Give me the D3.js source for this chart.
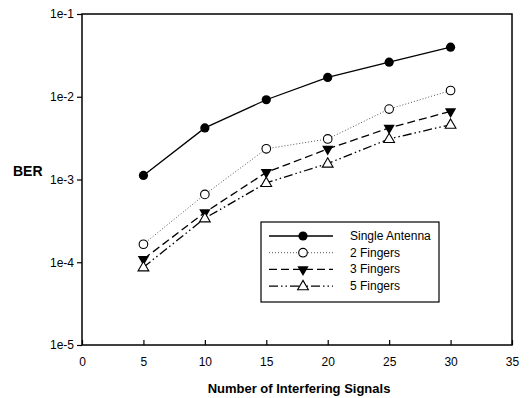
<!DOCTYPE html>
<html>
<head>
<meta charset="utf-8">
<script src="https://cdn.jsdelivr.net/npm/d3@7"></script>
<style>
  body { margin: 0; background: #fff; }
  text { font-family: "Liberation Sans", Arial, sans-serif; fill: #000; }
</style>
</head>
<body>
<div id="chart"></div>
<script>
// values
const signals = [5, 10, 15, 20, 25, 30]
const singleAntenna = [1.12e-3, 4.2e-3, 9.2e-3, 1.71e-2, 2.62e-2, 3.97e-2]
const fingers2 = [1.65e-4, 6.6e-4, 2.35e-3, 3.09e-3, 7.1e-3, 1.19e-2]
const fingers3 = [1.09e-4, 4.0e-4, 1.22e-3, 2.34e-3, 4.2e-3, 6.65e-3]
const fingers5 = [8.7e-5, 3.4e-4, 9.1e-4, 1.56e-3, 3.09e-3, 4.6e-3]
const xTicks = [0, 5, 10, 15, 20, 25, 30, 35]
const yTicks = [1e-5, 1e-4, 1e-3, 1e-2, 1e-1]
const yTickLabels = ['1e-5', '1e-4', '1e-3', '1e-2', '1e-1']
const seriesNames = ['Single Antenna', '2 Fingers', '3 Fingers', '5 Fingers']

const width = 529, height = 398
const margin = {top: 14, right: 17, bottom: 53, left: 82}
const w = width - margin.left - margin.right
const h = height - margin.top - margin.bottom

const svg = d3.select('#chart').append('svg')
    .attr('width', width)
    .attr('height', height)

const g = svg.append('g')
    .attr('transform', 'translate(' + margin.left + ',' + margin.top + ')')

const x = d3.scaleLinear().domain([0, 35]).range([0, w])
const y = d3.scaleLog().domain([1e-5, 1e-1]).range([h, 0])

// frame
g.append('rect')
    .attr('width', w).attr('height', h)
    .attr('fill', 'none').attr('stroke', '#000').attr('stroke-width', 1.5)

// x axis, ticks pointing into the plot
const xAxis = g.append('g')
    .attr('transform', 'translate(0,' + h + ')')
    .call(d3.axisBottom(x).tickValues(xTicks).tickSizeInner(-5).tickSizeOuter(0).tickPadding(12))
xAxis.select('.domain').remove()
xAxis.selectAll('line').attr('stroke-width', 1.2)
xAxis.selectAll('text').attr('font-size', 12)

const yAxis = g.append('g')
    .call(d3.axisLeft(y).tickValues(yTicks).tickFormat((d, i) => yTickLabels[i]).tickSizeInner(5).tickSizeOuter(0).tickPadding(3))
yAxis.select('.domain').remove()
yAxis.selectAll('line').attr('stroke-width', 1.2)
yAxis.selectAll('text').attr('font-size', 12)

// axis titles
svg.append('text')
    .attr('x', 13).attr('y', y(1e-3) + margin.top - 4)
    .attr('font-size', 14).attr('font-weight', 'bold')
    .text('BER')

svg.append('text')
    .attr('x', margin.left + x(17.5) + 2).attr('y', 393)
    .attr('text-anchor', 'middle')
    .attr('font-size', 13).attr('font-weight', 'bold')
    .text('Number of Interfering Signals')

const series = [
    {name: seriesNames[0], values: singleAntenna, dash: null, color: '#000', marker: 'filledCircle'},
    {name: seriesNames[1], values: fingers2, dash: '1,2', color: '#555', marker: 'openCircle'},
    {name: seriesNames[2], values: fingers3, dash: '8,4', color: '#000', marker: 'downTriangle'},
    {name: seriesNames[3], values: fingers5, dash: '9,3,1.5,3,1.5,3', color: '#000', marker: 'upTriangle'}
]

const line = d3.line()
    .x((d, i) => x(signals[i]))
    .y(d => y(d))

function drawMarker(sel, type, cx, cy) {
    if (type == 'filledCircle') {
        sel.append('circle').attr('cx', cx).attr('cy', cy).attr('r', 4.6)
            .attr('fill', '#000')
    } else if (type == 'openCircle') {
        sel.append('circle').attr('cx', cx).attr('cy', cy).attr('r', 4.3)
            .attr('fill', '#fff').attr('stroke', '#000').attr('stroke-width', 1.1)
    } else if (type == 'downTriangle') {
        sel.append('path')
            .attr('d', d3.symbol().type(d3.symbolTriangle).size(55))
            .attr('transform', 'translate(' + cx + ',' + cy + ') rotate(180)')
            .attr('fill', '#000')
    } else {
        sel.append('path')
            .attr('d', d3.symbol().type(d3.symbolTriangle).size(50))
            .attr('transform', 'translate(' + cx + ',' + (cy + 0.5) + ')')
            .attr('fill', '#fff').attr('stroke', '#000').attr('stroke-width', 1.1)
    }
}

series.forEach(s => {
    g.append('path')
        .datum(s.values)
        .attr('d', line)
        .attr('fill', 'none')
        .attr('stroke', s.color)
        .attr('stroke-width', s.dash == '1,2' ? 1 : 1.3)
        .attr('stroke-dasharray', s.dash)
    const mg = g.append('g')
    s.values.forEach((v, i) => drawMarker(mg, s.marker, x(signals[i]), y(v)))
})

// legend
const legend = svg.append('g').attr('transform', 'translate(261,222)')
legend.append('rect')
    .attr('width', 178).attr('height', 80)
    .attr('fill', '#fff').attr('stroke', '#000').attr('stroke-width', 1.2)

series.forEach((s, i) => {
    const ly = 14 + i * 16.7
    legend.append('line')
        .attr('x1', 8).attr('x2', 72).attr('y1', ly).attr('y2', ly)
        .attr('stroke', s.color)
        .attr('stroke-width', s.dash == '1,2' ? 1 : 1.3)
        .attr('stroke-dasharray', s.dash)
    drawMarker(legend, s.marker, 42, ly)
    legend.append('text')
        .attr('x', 89).attr('y', ly + 4)
        .attr('font-size', 12)
        .text(s.name)
})
</script>
</body>
</html>
